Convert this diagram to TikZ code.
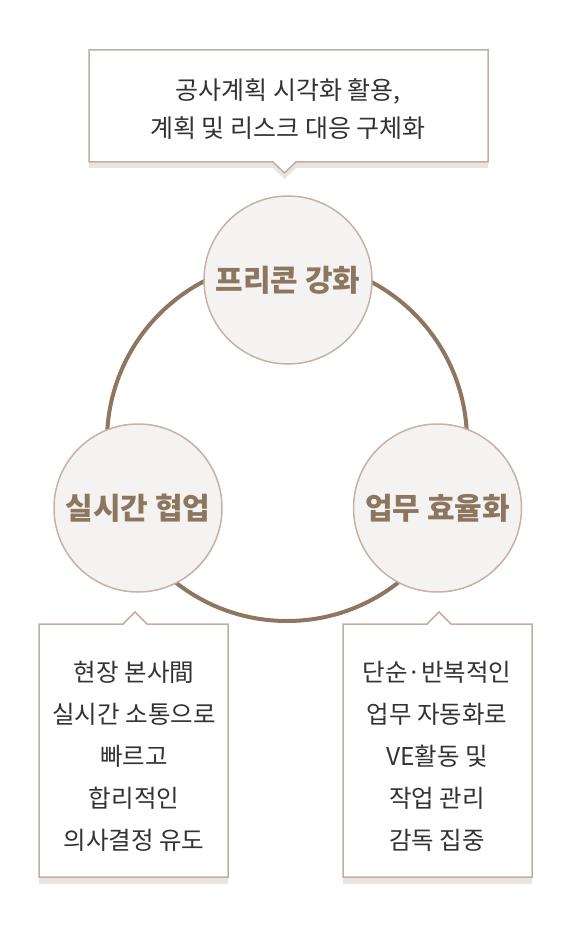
\documentclass[tikz,border=0pt]{standalone}
\usepackage{fontspec}
\newfontfamily\kr{Noto Sans CJK KR}
\definecolor{ringbrown}{HTML}{8D7760}
\definecolor{bubblefill}{HTML}{F5F3F1}
\definecolor{bubbleline}{HTML}{C4B2A6}
\definecolor{titlebrown}{HTML}{8C7660}
\definecolor{boxline}{HTML}{C2AEA1}
\definecolor{boxshadow}{HTML}{E9E4E0}
\definecolor{bodytext}{HTML}{333333}
\tikzset{
  bubble/.style={circle, fill=bubblefill, draw=bubbleline, line width=1.5pt,
    minimum size=168pt, inner sep=0pt, text=titlebrown,
    font=\kr\bfseries\fontsize{30}{34}\selectfont},
  calltext/.style={align=center, text=bodytext, inner sep=0pt},
  callbox/.style={fill=white, draw=boxline, line width=1.5pt, line join=miter},
  callshadow/.style={fill=boxshadow}
}
\begin{document}
\begin{tikzpicture}[x=1pt,y=-1pt]
\useasboundingbox (0,0) rectangle (576,928);
\fill[white] (0,0) rectangle (576,928);
% ring
\draw[ringbrown, line width=4pt] (287,441) circle[radius=180];
% bubbles
\node[bubble] (pre) at (288,280) {프리콘 강화};
\node[bubble] (col) at (138,508) {실시간 협업};
\node[bubble] (eff) at (437.5,508) {업무 효율화};
% top callout
\fill[callshadow, shift={(0,6)}] (89,50) -- (488,50) -- (488,162) -- (296,162) -- (284.5,173) -- (273,162) -- (89,162) -- cycle;
\draw[callbox] (89,50) -- (488,50) -- (488,162) -- (296,162) -- (284.5,173) -- (273,162) -- (89,162) -- cycle;
\node[calltext, font=\kr\fontsize{25}{38}\selectfont] (topnote) at (288,109) {공사계획 시각화 활용,\\계획 및 리스크 대응 구체화};
% bottom-left callout
\fill[callshadow, shift={(0,7)}] (39,624) -- (123,624) -- (135,612) -- (147,624) -- (228,624) -- (228,877) -- (39,877) -- cycle;
\draw[callbox] (39,624) -- (123,624) -- (135,612) -- (147,624) -- (228,624) -- (228,877) -- (39,877) -- cycle;
\node[calltext, font=\kr\fontsize{24.5}{42}\selectfont] (leftnote) at (134,756) {현장 본사間\\실시간 소통으로\\빠르고\\합리적인\\의사결정 유도};
% bottom-right callout
\fill[callshadow, shift={(0,7)}] (343,624) -- (427,624) -- (439,612) -- (451,624) -- (532,624) -- (532,877) -- (343,877) -- cycle;
\draw[callbox] (343,624) -- (427,624) -- (439,612) -- (451,624) -- (532,624) -- (532,877) -- (343,877) -- cycle;
\node[calltext, font=\kr\fontsize{24.5}{42}\selectfont] (rightnote) at (437,756) {단순·반복적인\\업무 자동화로\\VE활동 및\\작업 관리\\감독 집중};
\end{tikzpicture}
\end{document}
